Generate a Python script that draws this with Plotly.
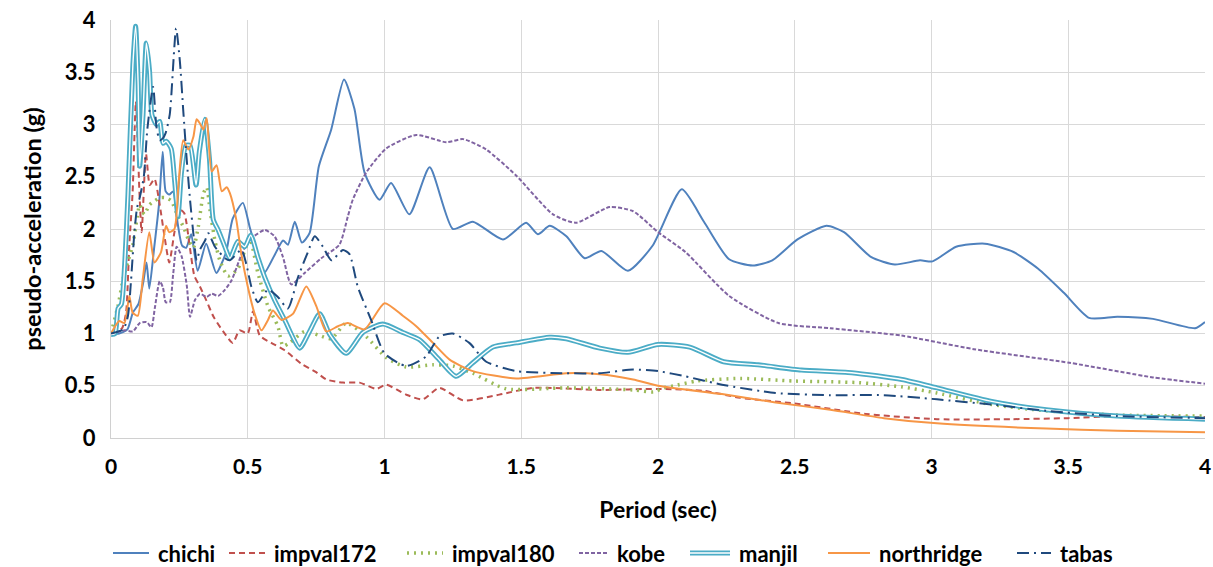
import plotly.graph_objects as go

# Response spectra: period (sec) vs pseudo-acceleration (g)
chichi_T = [0, 0.03, 0.06, 0.08, 0.1, 0.118, 0.13, 0.14, 0.157, 0.176, 0.189, 0.2, 0.213, 0.227, 0.244,
            0.26, 0.275, 0.293, 0.317, 0.348, 0.385, 0.421, 0.445, 0.482, 0.507, 0.531, 0.56, 0.598,
            0.629, 0.647, 0.672, 0.698, 0.726, 0.76, 0.805, 0.852, 0.89, 0.927, 0.982, 1.024, 1.091,
            1.165, 1.25, 1.323, 1.433, 1.518, 1.561, 1.604, 1.665, 1.732, 1.793, 1.89, 1.98, 2.087,
            2.168, 2.26, 2.346, 2.418, 2.51, 2.616, 2.68, 2.78, 2.866, 2.958, 3.004, 3.09, 3.195, 3.30,
            3.39, 3.484, 3.576, 3.68, 3.81, 3.964, 4.0]
chichi_A = [1.0, 1.0, 1.04, 1.2, 1.28, 1.49, 1.68, 1.43, 1.8, 2.25, 2.74, 2.36, 2.33, 2.36, 2.05,
            1.84, 1.82, 1.95, 1.6, 1.86, 1.58, 1.78, 2.1, 2.25, 2.02, 1.8, 1.58, 1.75,
            1.89, 1.85, 2.07, 1.87, 1.96, 2.6, 2.95, 3.43, 3.15, 2.54, 2.28, 2.44, 2.14,
            2.59, 2.0, 2.07, 1.9, 2.06, 1.95, 2.03, 1.93, 1.72, 1.79, 1.6, 1.84, 2.38,
            2.07, 1.71, 1.65, 1.7, 1.9, 2.03, 1.97, 1.73, 1.66, 1.7, 1.69, 1.83, 1.86, 1.78,
            1.62, 1.39, 1.15, 1.16, 1.14, 1.05, 1.11]

impval172_T = [0, 0.04, 0.055, 0.067, 0.079, 0.091, 0.104, 0.112, 0.128, 0.142, 0.159, 0.177, 0.195,
               0.213, 0.232, 0.25, 0.268, 0.287, 0.305, 0.325, 0.348, 0.375, 0.41, 0.445, 0.47, 0.5,
               0.519, 0.544, 0.586, 0.635, 0.696, 0.75, 0.787, 0.848, 0.909, 0.97, 1.006, 1.079, 1.14,
               1.2, 1.287, 1.42, 1.543, 1.787, 2.0, 2.17, 2.30, 2.5, 2.76, 3.02, 3.29, 3.5, 3.68, 4.0]
impval172_A = [1.0, 1.05, 1.2, 1.85, 2.35, 3.22, 2.35, 1.97, 2.72, 2.42, 2.48, 2.25, 1.94,
               1.68, 1.97, 2.19, 2.15, 1.85, 1.55, 1.45, 1.32, 1.16, 1.02, 0.91, 1.03, 1.0,
               1.21, 0.98, 0.91, 0.84, 0.71, 0.63, 0.56, 0.53, 0.53, 0.47, 0.51, 0.415, 0.37,
               0.48, 0.36, 0.415, 0.48, 0.46, 0.47, 0.45, 0.385, 0.33, 0.23, 0.18, 0.18, 0.19, 0.21, 0.20]

impval180_T = [0, 0.026, 0.045, 0.062, 0.08, 0.093, 0.105, 0.122, 0.14, 0.16, 0.18, 0.2, 0.22, 0.245,
               0.265, 0.283, 0.301, 0.319, 0.338, 0.35, 0.362, 0.38, 0.398, 0.428, 0.464, 0.507, 0.537,
               0.574, 0.61, 0.629, 0.653, 0.708, 0.763, 0.806, 0.86, 0.933, 1.006, 1.079, 1.177, 1.25,
               1.323, 1.445, 1.665, 1.909, 1.984, 2.02, 2.06, 2.14, 2.30, 2.5, 2.734, 2.89, 3.02, 3.22,
               3.42, 3.68, 4.0]
impval180_A = [1.0, 1.27, 1.53, 1.69, 1.85, 2.07, 2.23, 2.14, 2.23, 2.27, 2.3, 2.3, 2.27, 2.12,
               2.02, 1.9, 1.82, 2.02, 2.34, 2.4, 2.18, 1.89, 1.7, 1.55, 1.62, 1.91, 1.58,
               1.26, 1.07, 0.88, 0.91, 1.02, 0.98, 0.95, 1.10, 0.97, 0.77, 0.68, 0.70, 0.69,
               0.62, 0.47, 0.48, 0.46, 0.44, 0.48, 0.5, 0.545, 0.57, 0.545, 0.53, 0.49, 0.43, 0.32,
               0.26, 0.22, 0.21]

kobe_T = [0, 0.05, 0.08, 0.105, 0.13, 0.148, 0.16, 0.178, 0.19, 0.2, 0.215, 0.227, 0.24, 0.258, 0.277,
          0.289, 0.307, 0.325, 0.35, 0.368, 0.392, 0.417, 0.441, 0.466, 0.484, 0.513, 0.562, 0.598,
          0.629, 0.659, 0.708, 0.769, 0.835, 0.866, 0.884, 0.933, 1.006, 1.116, 1.226, 1.287, 1.372,
          1.482, 1.616, 1.70, 1.823, 1.909, 2.0, 2.10, 2.26, 2.44, 2.63, 2.89, 3.155, 3.504, 3.81, 4.0]
kobe_A = [1.0, 1.03, 1.02, 1.1, 1.11, 1.06, 1.24, 1.5, 1.44, 1.3, 1.3, 1.56, 1.83, 1.74, 1.46,
          1.16, 1.32, 1.38, 1.35, 1.38, 1.36, 1.42, 1.51, 1.68, 1.8, 1.91, 1.99, 1.93,
          1.73, 1.47, 1.58, 1.72, 1.85, 2.12, 2.28, 2.54, 2.77, 2.9, 2.83, 2.86, 2.76,
          2.51, 2.14, 2.06, 2.21, 2.17, 1.97, 1.78, 1.36, 1.10, 1.05, 0.98, 0.85, 0.72, 0.58, 0.52]

manjil_T = [0, 0.015, 0.026, 0.038, 0.05, 0.062, 0.08, 0.09, 0.099, 0.105, 0.117, 0.129, 0.141, 0.15,
            0.166, 0.178, 0.19, 0.202, 0.22, 0.233, 0.245, 0.258, 0.274, 0.289, 0.311, 0.323, 0.343,
            0.36, 0.374, 0.392, 0.415, 0.435, 0.464, 0.489, 0.511, 0.537, 0.562, 0.598, 0.635, 0.69,
            0.726, 0.763, 0.80, 0.86, 0.921, 0.994, 1.067, 1.128, 1.20, 1.262, 1.323, 1.396, 1.482,
            1.604, 1.665, 1.787, 1.89, 2.0, 2.116, 2.24, 2.366, 2.524, 2.708, 2.892, 3.02, 3.22, 3.42,
            3.68, 4.0]
manjil_A = [0.99, 1.0, 1.24, 1.28, 1.66, 2.33, 3.57, 3.94, 3.41, 2.6, 3.09, 3.78, 3.51, 3.09,
            3.0, 3.03, 2.82, 2.84, 2.77, 2.45, 2.12, 2.55, 2.80, 2.80, 2.42, 2.74, 3.05,
            2.67, 2.09, 1.99, 1.84, 1.72, 1.88, 1.83, 1.94, 1.73, 1.54, 1.32, 1.13, 0.86,
            1.02, 1.19, 0.99, 0.81, 1.01, 1.09, 1.01, 0.94, 0.75, 0.59, 0.72, 0.87, 0.91,
            0.965, 0.95, 0.86, 0.82, 0.895, 0.87, 0.73, 0.70, 0.65, 0.625, 0.56, 0.48, 0.35, 0.27,
            0.21, 0.18]

northridge_T = [0, 0.03, 0.049, 0.067, 0.079, 0.098, 0.116, 0.14, 0.159, 0.183, 0.201, 0.213, 0.232,
                0.246, 0.264, 0.283, 0.301, 0.313, 0.325, 0.338, 0.35, 0.368, 0.386, 0.405, 0.423,
                0.435, 0.458, 0.476, 0.50, 0.525, 0.55, 0.574, 0.592, 0.623, 0.666, 0.714, 0.751,
                0.787, 0.83, 0.866, 0.927, 1.0, 1.067, 1.116, 1.177, 1.238, 1.323, 1.482, 1.665,
                1.787, 1.909, 2.0, 2.234, 2.43, 2.63, 2.826, 3.02, 3.42, 3.68, 4.0]
northridge_A = [1.0, 1.12, 1.1, 1.36, 1.2, 1.17, 1.52, 1.97, 1.68, 1.78, 2.03, 1.97, 2.0,
                2.4, 2.85, 2.76, 2.88, 3.05, 3.01, 2.95, 3.06, 2.55, 2.61, 2.36, 2.40,
                2.34, 2.09, 1.77, 1.45, 1.19, 1.03, 1.13, 1.22, 1.13, 1.19, 1.45, 1.26,
                1.02, 1.07, 1.10, 1.04, 1.29, 1.17, 1.07, 0.91, 0.75, 0.64, 0.57, 0.62,
                0.61, 0.56, 0.5, 0.42, 0.34, 0.27, 0.19, 0.14, 0.09, 0.07, 0.055]

tabas_T = [0, 0.045, 0.062, 0.073, 0.085, 0.095, 0.105, 0.12, 0.133, 0.154, 0.166, 0.178, 0.19, 0.2,
           0.215, 0.238, 0.252, 0.264, 0.277, 0.289, 0.301, 0.313, 0.325, 0.344, 0.356, 0.38, 0.417,
           0.434, 0.477, 0.495, 0.513, 0.537, 0.574, 0.61, 0.647, 0.684, 0.72, 0.745, 0.775, 0.806,
           0.848, 0.872, 0.902, 0.951, 1.0, 1.079, 1.152, 1.2, 1.25, 1.31, 1.372, 1.482, 1.665,
           1.787, 1.909, 2.0, 2.10, 2.234, 2.43, 2.63, 2.826, 3.02, 3.22, 3.42, 3.68, 4.0]
tabas_A = [1.0, 1.04, 1.17, 1.5, 1.95, 2.2, 2.3, 2.5, 2.96, 3.36, 2.98, 2.85, 2.87, 2.92,
           3.1, 3.92, 3.6, 3.14, 2.66, 2.28, 1.96, 1.70, 1.80, 1.89, 1.96, 1.83, 1.72,
           1.70, 1.80, 1.66, 1.45, 1.30, 1.42, 1.35, 1.24, 1.54, 1.78, 1.93, 1.83, 1.70,
           1.80, 1.76, 1.45, 1.13, 0.81, 0.69, 0.78, 0.97, 1.0, 0.91, 0.73, 0.64, 0.62,
           0.62, 0.655, 0.64, 0.59, 0.51, 0.43, 0.41, 0.41, 0.37, 0.32, 0.26, 0.21, 0.19]

FONT = "Lato, 'Open Sans', 'DejaVu Sans', sans-serif"
SMOOTH = 0.6

W, H = 1213, 567
M_L, M_R, M_T, M_B = 111, 8, 20, 129
PLOT_W, PLOT_H = W - M_L - M_R, H - M_T - M_B

# series styles: (name, periods, values, colour, width, dash)
series = [
    ("chichi", chichi_T, chichi_A, "#4F81BD", 2, "solid"),
    ("impval172", impval172_T, impval172_A, "#C0504D", 2, "6px,4px"),
    ("impval180", impval180_T, impval180_A, "#9BBB59", 3.5, "2px,5px"),
    ("kobe", kobe_T, kobe_A, "#8064A2", 2, "4px,2px"),
    ("manjil", manjil_T, manjil_A, "#4BACC6", 5, "solid"),
    ("northridge", northridge_T, northridge_A, "#F79646", 2, "solid"),
    ("tabas", tabas_T, tabas_A, "#1F497D", 2, "12px,5px,2px,5px"),
]
DOUBLE_LINE = {"manjil"}  # drawn with a thin white core

fig = go.Figure()
for name, T, A, color, width, dash in series:
    fig.add_trace(go.Scatter(
        x=T, y=A, mode="lines", name=name,
        line=dict(color=color, width=width, dash=dash, shape="spline", smoothing=SMOOTH),
        hoverinfo="x+y+name",
    ))
    if name in DOUBLE_LINE:
        fig.add_trace(go.Scatter(
            x=T, y=A, mode="lines", name=name,
            line=dict(color="#FFFFFF", width=1.4, shape="spline", smoothing=SMOOTH),
            hoverinfo="skip",
        ))


def px_x(p):
    return (p - M_L) / PLOT_W


def px_y(p):
    return (H - M_B - p) / PLOT_H


# legend row below the axis title: (symbol start, symbol end, text start) in pixels
legend_pos = {
    "chichi": (113, 149, 156),
    "impval172": (229, 265, 272),
    "impval180": (407, 443, 450),
    "kobe": (579, 608, 615),
    "manjil": (690, 730, 737),
    "northridge": (828, 870, 877),
    "tabas": (1017, 1051, 1058),
}
LEG_Y = 553
shapes, annotations = [], []
for name, T, A, color, width, dash in series:
    x0, x1, xt = legend_pos[name]
    shapes.append(dict(type="line", xref="paper", yref="paper",
                       x0=px_x(x0), x1=px_x(x1), y0=px_y(LEG_Y), y1=px_y(LEG_Y),
                       line=dict(color=color, width=width, dash=dash)))
    if name in DOUBLE_LINE:
        shapes.append(dict(type="line", xref="paper", yref="paper",
                           x0=px_x(x0), x1=px_x(x1), y0=px_y(LEG_Y), y1=px_y(LEG_Y),
                           line=dict(color="#FFFFFF", width=1.4)))
    annotations.append(dict(text=name, xref="paper", yref="paper", x=px_x(xt), y=px_y(LEG_Y),
                            xanchor="left", yanchor="middle", showarrow=False,
                            font=dict(family=FONT, size=22, weight="bold", color="#000000")))

ticks = [0, 0.5, 1, 1.5, 2, 2.5, 3, 3.5, 4]
tick_text = ["0", "0.5", "1", "1.5", "2", "2.5", "3", "3.5", "4"]

fig.update_layout(
    width=W, height=H,
    margin=dict(l=M_L, r=M_R, t=M_T, b=M_B),
    paper_bgcolor="white", plot_bgcolor="white",
    font=dict(family=FONT, color="#000000", size=20),
    showlegend=False,
    shapes=shapes, annotations=annotations,
    xaxis=dict(
        range=[0, 4], tickvals=ticks, ticktext=tick_text,
        showgrid=True, gridcolor="#D9D9D9", gridwidth=1,
        showline=True, linecolor="#D0D0D0", linewidth=1, zeroline=False,
        ticks="", ticklabelstandoff=10,
        tickfont=dict(family=FONT, size=21, weight="bold"),
        title=dict(text="Period (sec)", standoff=24,
                   font=dict(family=FONT, size=23, weight="bold")),
        automargin=False,
    ),
    yaxis=dict(
        range=[0, 4], tickvals=ticks, ticktext=tick_text,
        showgrid=True, gridcolor="#D9D9D9", gridwidth=1,
        showline=True, linecolor="#D0D0D0", linewidth=1, zeroline=False,
        ticks="", ticklabelstandoff=10,
        tickfont=dict(family=FONT, size=22, weight="bold"),
        title=dict(text="pseudo-acceleration (g)", standoff=16,
                   font=dict(family=FONT, size=23.5, weight="bold")),
        automargin=False,
    ),
)

fig.write_html("out.html")
